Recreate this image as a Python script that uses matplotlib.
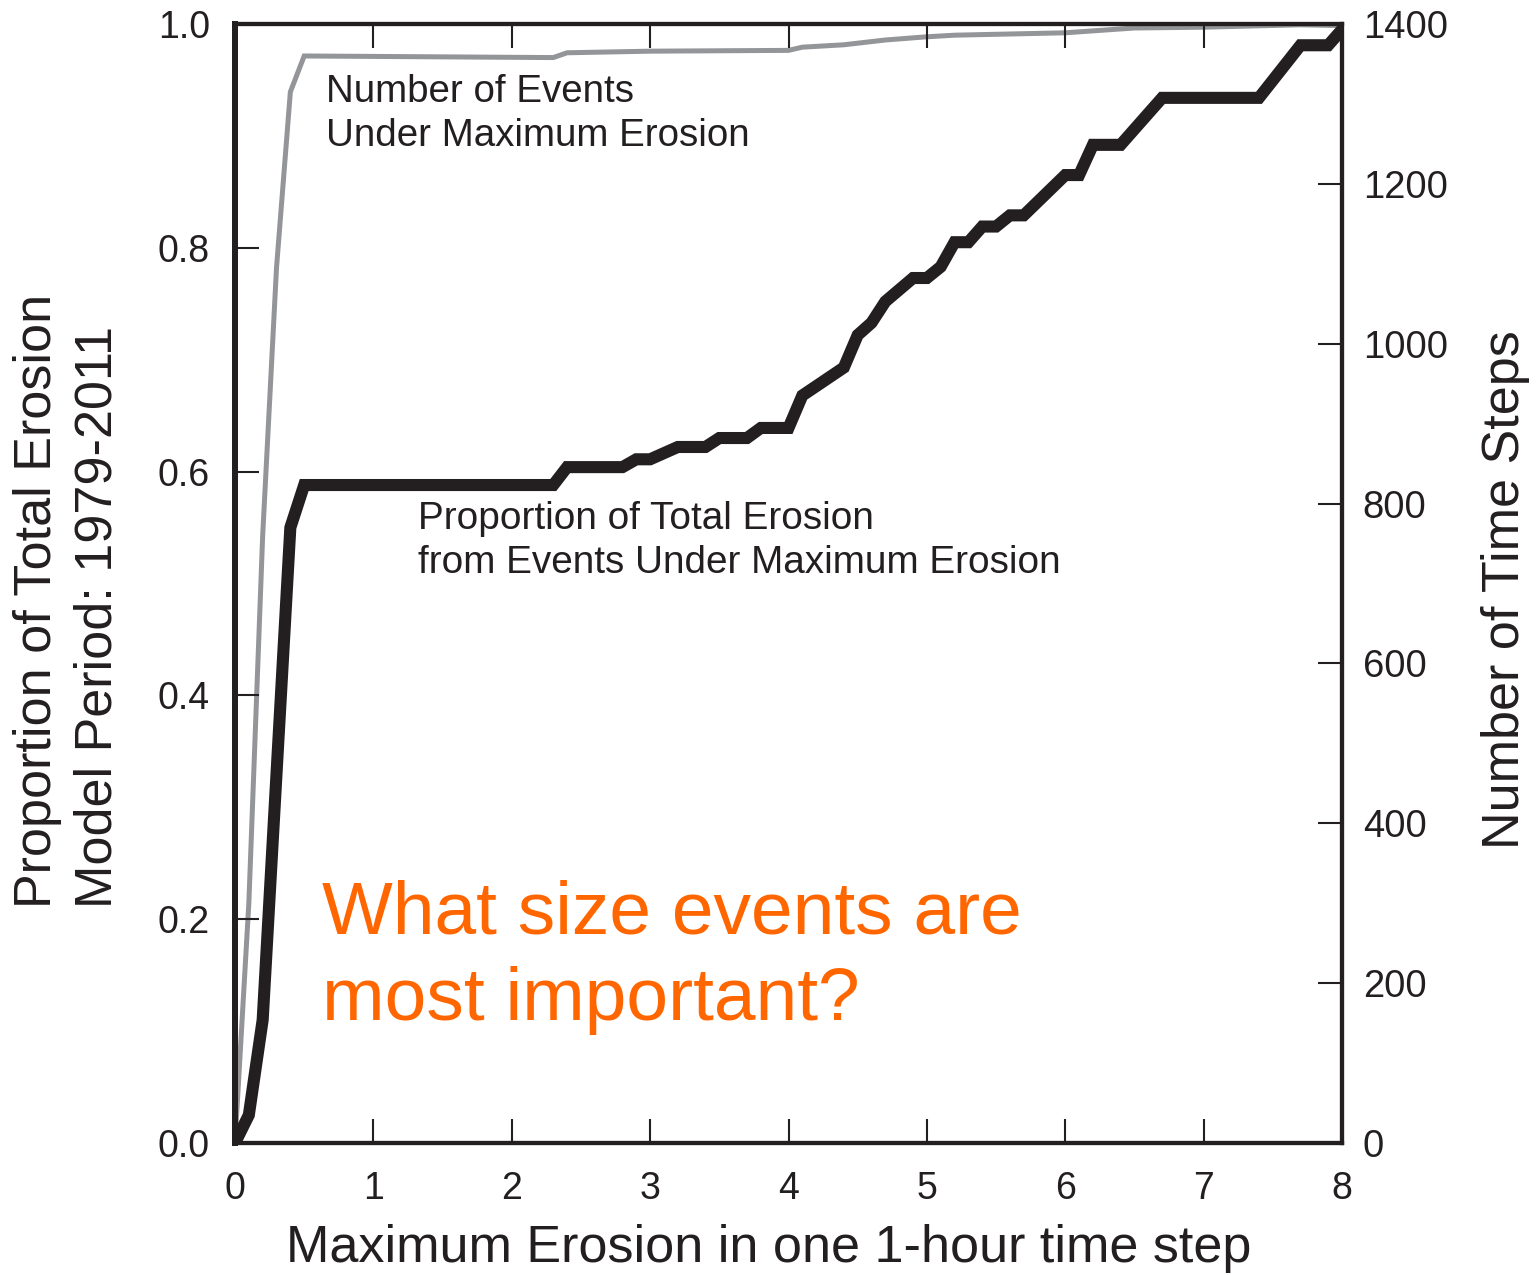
import matplotlib
matplotlib.use("Agg")
import matplotlib.pyplot as plt

plt.rcParams['font.family'] = ['Liberation Sans', 'DejaVu Sans']

# cumulative proportion of total erosion (left axis)
prop_x = [0, 0.1, 0.2, 0.3, 0.4, 0.5, 2.3, 2.4, 2.8, 2.9, 3.0, 3.2, 3.4, 3.5, 3.7,
          3.8, 4.0, 4.1, 4.4, 4.5, 4.6, 4.7, 4.9, 5.0, 5.1, 5.2, 5.3, 5.4, 5.5,
          5.6, 5.7, 6.0, 6.1, 6.2, 6.4, 6.7, 7.4, 7.7, 7.9, 8.0]
prop_y = [0, 0.025, 0.11, 0.33, 0.55, 0.588, 0.588, 0.604, 0.604, 0.611, 0.611,
          0.622, 0.622, 0.630, 0.630, 0.639, 0.639, 0.668, 0.693, 0.722, 0.733,
          0.752, 0.773, 0.773, 0.783, 0.805, 0.805, 0.819, 0.819, 0.829, 0.829,
          0.865, 0.865, 0.892, 0.892, 0.934, 0.934, 0.981, 0.981, 0.995]

# cumulative number of events (right axis)
count_x = [0, 0.1, 0.2, 0.3, 0.4, 0.5, 2.3, 2.4, 3.0, 4.0, 4.1, 4.4, 4.7, 5.0,
           5.2, 6.0, 6.5, 7.0, 7.7, 8.0]
count_y = [0, 300, 760, 1095, 1315, 1360, 1358, 1364, 1366, 1367, 1371, 1374,
           1380, 1384, 1386, 1389, 1395, 1396, 1399, 1398]

xticks = [0, 1, 2, 3, 4, 5, 6, 7, 8]
left_ticks = [0.0, 0.2, 0.4, 0.6, 0.8, 1.0]
right_ticks = [0, 200, 400, 600, 800, 1000, 1200, 1400]

BLACK = '#231f20'
GREY = '#939598'
ORANGE = '#ff6600'
W, H = 1539, 1275

fig = plt.figure(figsize=(W / 100, H / 100), dpi=100)
ax = fig.add_axes([235 / W, 1 - 1143 / H, (1342 - 235) / W, (1143 - 24) / H])
ax2 = ax.twinx()

ax2.plot(count_x, count_y, color=GREY, lw=3.6, solid_joinstyle='miter', zorder=2)
ax.plot(prop_x, prop_y, color=BLACK, lw=8.7, solid_joinstyle='miter', zorder=3)
ax.set_zorder(ax2.get_zorder() + 1)
ax.patch.set_visible(False)

ax.set_xlim(0, 8)
ax.set_ylim(0, 1)
ax2.set_ylim(0, 1400)
ax.set_xticks(xticks)
ax.set_yticks(left_ticks)
ax.set_yticklabels([f'{v:.1f}' for v in left_ticks])
ax2.set_yticks(right_ticks)

ax.tick_params(axis='x', direction='in', length=17, width=1.5, color=BLACK,
               labelsize=27, pad=20, top=True, labelcolor=BLACK)
ax.tick_params(axis='y', direction='in', length=17, width=1.5, color=BLACK,
               labelsize=27, pad=18, labelcolor=BLACK)
ax2.tick_params(axis='y', direction='in', length=17, width=1.5, color=BLACK,
                labelsize=27.5, pad=15, labelcolor=BLACK)

for a in (ax, ax2):
    for side, sp in a.spines.items():
        sp.set_color(BLACK)
        sp.set_linewidth(3.0)
ax.spines['left'].set_linewidth(4.3)
ax2.spines['left'].set_linewidth(4.3)

# axis titles
fig.text(769 / W, 1 - 1262 / H, 'Maximum Erosion in one 1-hour time step',
         ha='center', va='baseline', fontsize=37.5, color=BLACK)
fig.text(68 / W, 1 - 908 / H, 'Proportion of Total Erosion\nModel Period: 1979-2011',
         rotation=90, ha='center', va='bottom', multialignment='left',
         fontsize=37.5, color=BLACK, linespacing=1.3)
fig.text(1505 / W, 1 - 590 / H, 'Number of Time Steps', rotation=90,
         ha='center', va='center', fontsize=37.5, color=BLACK)

# curve labels (y is the baseline of the last line)
fig.text(326 / W, 1 - 146 / H, 'Number of Events\nUnder Maximum Erosion',
         ha='left', va='baseline', fontsize=27.7, color=BLACK, linespacing=1.3)
fig.text(418 / W, 1 - 573 / H,
         'Proportion of Total Erosion\nfrom Events Under Maximum Erosion',
         ha='left', va='baseline', fontsize=27.9, color=BLACK, linespacing=1.3)
fig.text(322 / W, 1 - 1020 / H, 'What size events are\nmost important?',
         ha='left', va='baseline', fontsize=54, color=ORANGE, linespacing=1.33)

fig.savefig('out.png', dpi=100)
